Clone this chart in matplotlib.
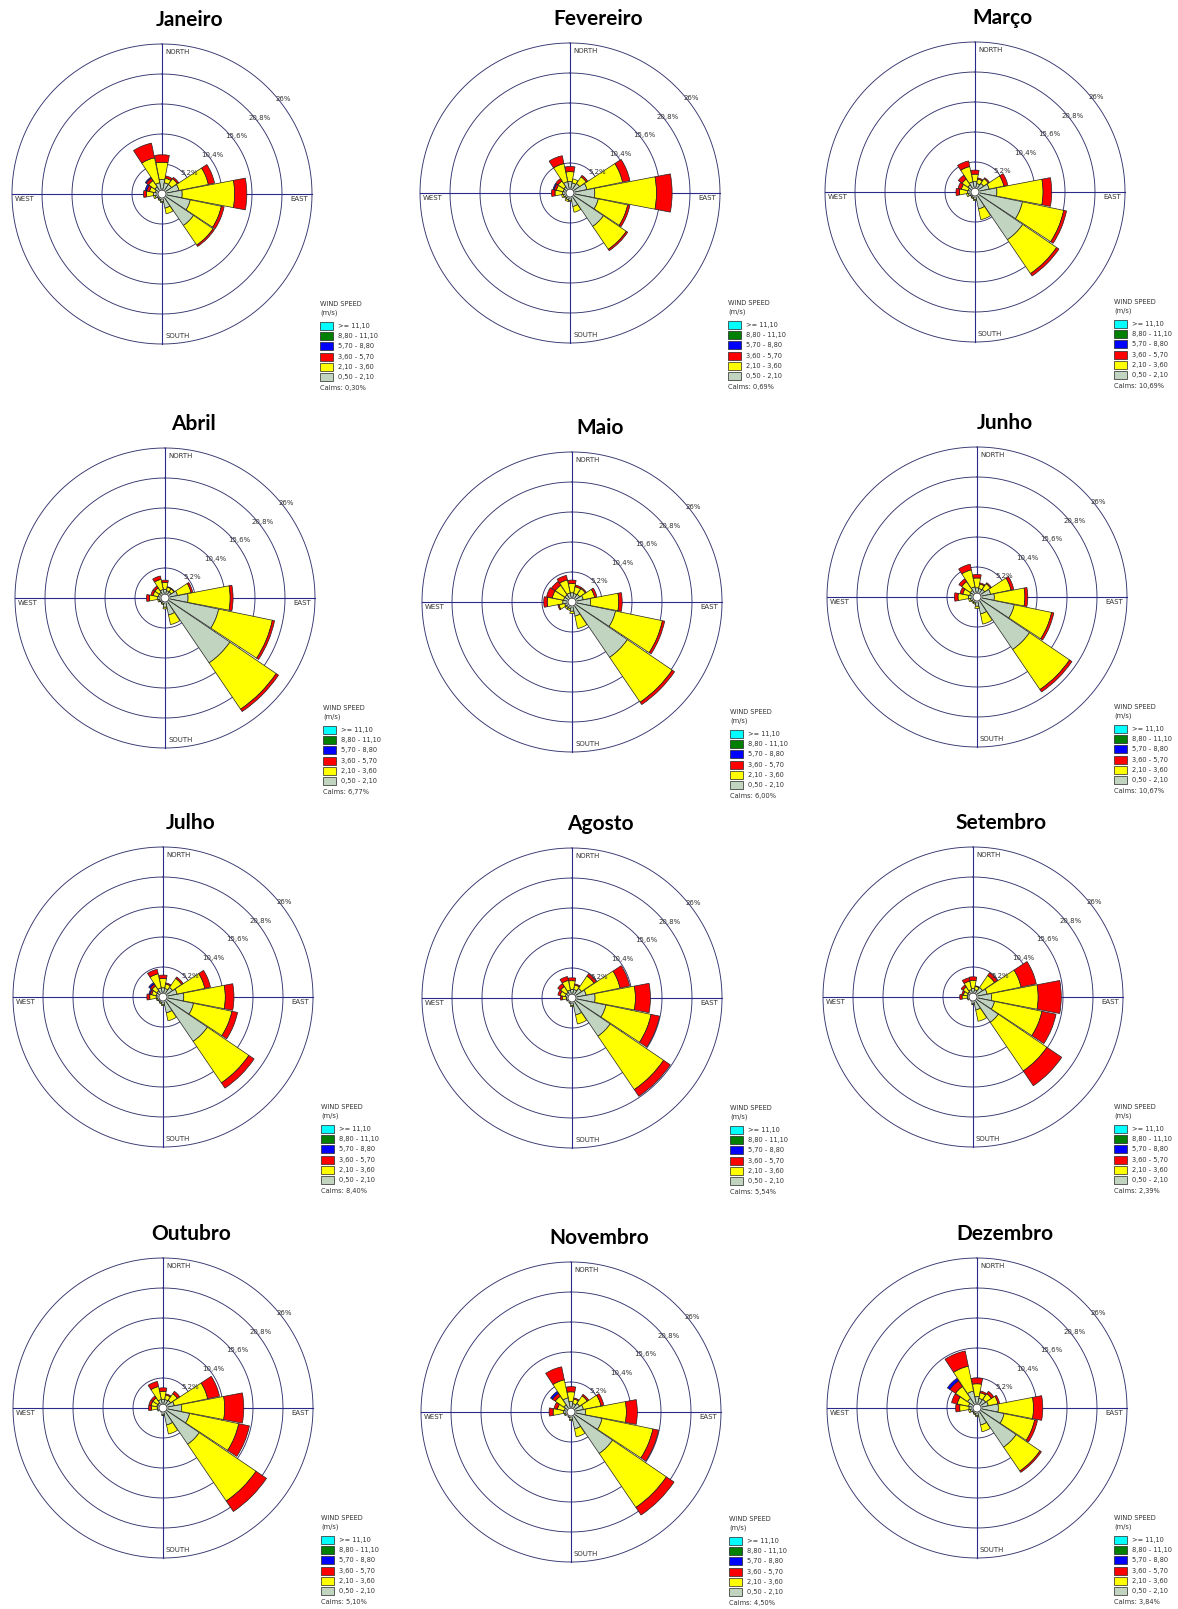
import numpy as np
import matplotlib
matplotlib.use("Agg")
import matplotlib.pyplot as plt
from matplotlib.patches import Rectangle

# ── data ───────────────────────────────────────────────────────────────────
DIRECTIONS = ["N", "NNE", "NE", "ENE", "E", "ESE", "SE", "SSE",
              "S", "SSW", "SW", "WSW", "W", "WNW", "NW", "NNW"]
SPEED_LABELS = [">= 11,10", "8,80 - 11,10", "5,70 - 8,80",
                "3,60 - 5,70", "2,10 - 3,60", "0,50 - 2,10"]
SPEED_COLORS = ["#00ffff", "#008000", "#0000ff", "#ff0000", "#ffff00", "#c0d4c0"]
RING_VALUES = [5.2, 10.4, 15.6, 20.8, 26]
RING_LABELS = ["5,2%", "10,4%", "15,6%", "20,8%", "26%"]

MONTHS = ["Janeiro", "Fevereiro", "Março", "Abril", "Maio", "Junho",
          "Julho", "Agosto", "Setembro", "Outubro", "Novembro", "Dezembro"]
CALMS = ["0,30%", "0,69%", "10,69%", "6,77%", "6,00%", "10,67%",
         "8,40%", "5,54%", "2,39%", "5,10%", "4,50%", "3,84%"]

# frequency (%) by direction; rows = 0.50-2.10, 2.10-3.60, 3.60-5.70, 5.70-8.80 m/s
JANEIRO = [[2.5, 2.0, 2.0, 3.0, 3.5, 5.0, 6.6, 2.5, 1.3, 1.0, 0.9, 1.2, 1.5, 1.2, 1.5, 2.0],
           [3.0, 0.8, 1.2, 5.2, 9.1, 5.5, 4.1, 1.0, 0.2, 0.2, 0.1, 0.3, 1.2, 1.0, 1.3, 4.4],
           [1.3, 0.4, 0.3, 1.1, 2.1, 0.5, 0.3, 0.0, 0.0, 0.0, 0.0, 0.0, 0.5, 0.5, 0.5, 2.6],
           [0.0, 0.0, 0.0, 0.0, 0.0, 0.0, 0.0, 0.0, 0.0, 0.0, 0.0, 0.0, 0.0, 0.3, 0.2, 0.0]]
FEVEREIRO = [[2.0, 1.8, 2.0, 3.0, 4.3, 5.0, 7.0, 2.4, 1.3, 1.2, 1.0, 1.2, 1.3, 1.2, 1.3, 2.0],
             [1.7, 0.7, 1.4, 6.3, 10.7, 5.2, 4.8, 1.0, 0.2, 0.3, 0.2, 0.3, 1.3, 1.2, 1.2, 3.2],
             [0.9, 0.0, 0.3, 1.3, 2.7, 0.4, 0.3, 0.0, 0.0, 0.0, 0.0, 0.0, 0.6, 0.4, 0.5, 1.4],
             [0.0, 0.0, 0.0, 0.0, 0.0, 0.0, 0.0, 0.0, 0.0, 0.0, 0.0, 0.0, 0.0, 0.2, 0.0, 0.0]]
MARCO = [[1.8, 1.5, 1.8, 2.5, 3.8, 8.4, 10.0, 3.0, 1.3, 1.0, 0.9, 1.2, 1.3, 1.2, 1.5, 1.8],
         [1.3, 0.8, 1.0, 2.6, 8.0, 7.3, 7.1, 1.9, 0.2, 0.2, 0.1, 0.3, 1.4, 1.2, 1.2, 2.7],
         [0.7, 0.2, 0.2, 0.7, 1.5, 0.5, 0.5, 0.0, 0.0, 0.0, 0.0, 0.0, 0.6, 0.6, 0.8, 1.0],
         [0.0] * 16]
ABRIL = [[1.5, 1.3, 1.3, 2.2, 4.0, 9.5, 13.6, 3.0, 1.6, 1.0, 0.9, 1.1, 1.3, 1.2, 1.2, 1.5],
         [1.2, 0.6, 0.6, 2.4, 7.3, 9.5, 9.7, 1.7, 0.3, 0.2, 0.1, 0.2, 1.4, 0.9, 0.9, 1.8],
         [0.4, 0.1, 0.1, 0.3, 0.5, 0.4, 0.5, 0.0, 0.0, 0.0, 0.0, 0.0, 0.5, 0.4, 0.4, 0.6],
         [0.0] * 16]
MAIO = [[1.6, 1.5, 1.6, 2.0, 3.2, 7.7, 11.6, 2.5, 1.6, 1.2, 1.2, 1.3, 1.6, 1.5, 1.5, 1.6],
        [1.6, 1.2, 1.2, 2.0, 4.9, 8.3, 9.4, 2.2, 0.4, 0.3, 0.3, 1.0, 2.7, 2.0, 2.0, 2.3],
        [0.6, 0.3, 0.2, 0.4, 0.6, 0.4, 0.5, 0.0, 0.0, 0.0, 0.0, 0.2, 0.6, 1.0, 0.8, 0.8],
        [0.0] * 16]
JUNHO = [[1.6, 1.5, 1.6, 2.4, 3.0, 6.6, 11.0, 3.0, 1.6, 1.1, 1.0, 1.2, 1.5, 1.3, 1.4, 1.8],
         [1.7, 0.8, 1.2, 3.6, 5.3, 6.6, 8.4, 1.8, 0.4, 0.2, 0.2, 0.3, 1.8, 1.2, 1.8, 3.0],
         [0.6, 0.2, 0.2, 0.5, 0.5, 0.4, 0.5, 0.0, 0.0, 0.0, 0.0, 0.0, 0.6, 0.5, 0.6, 1.0],
         [0.0] * 16]
JULHO = [[1.6, 1.5, 2.0, 2.5, 3.6, 5.4, 9.3, 2.8, 1.3, 1.0, 0.9, 1.0, 1.2, 1.2, 1.3, 1.6],
         [1.6, 0.8, 1.9, 4.9, 7.2, 6.8, 8.7, 1.4, 0.2, 0.2, 0.1, 0.2, 1.1, 0.8, 1.0, 2.5],
         [0.6, 0.2, 0.3, 1.0, 1.5, 1.0, 1.1, 0.0, 0.0, 0.0, 0.0, 0.0, 0.5, 0.3, 0.4, 0.8],
         [0.0, 0.0, 0.0, 0.0, 0.0, 0.0, 0.0, 0.0, 0.0, 0.0, 0.0, 0.0, 0.0, 0.2, 0.3, 0.0]]
AGOSTO = [[1.5, 1.5, 2.0, 2.5, 4.0, 6.0, 8.0, 3.0, 1.3, 0.9, 0.7, 0.9, 1.0, 1.2, 1.2, 1.4],
          [1.5, 0.8, 2.6, 6.0, 7.0, 8.0, 11.2, 1.6, 0.2, 0.1, 0.1, 0.1, 0.7, 0.9, 1.2, 1.7],
          [0.5, 0.2, 0.5, 1.7, 2.6, 1.5, 1.4, 0.0, 0.0, 0.0, 0.0, 0.0, 0.3, 0.4, 0.6, 0.7],
          [0.0] * 16]
SETEMBRO = [[1.5, 1.3, 2.0, 2.5, 3.2, 3.8, 5.3, 2.3, 1.2, 0.8, 0.7, 0.9, 1.0, 1.0, 1.1, 1.3],
            [1.4, 0.6, 2.5, 6.0, 8.1, 8.4, 10.2, 2.0, 0.1, 0.0, 0.0, 0.1, 0.9, 0.7, 1.0, 1.5],
            [0.6, 0.1, 0.6, 2.7, 4.0, 2.5, 3.1, 0.0, 0.0, 0.0, 0.0, 0.0, 0.4, 0.3, 0.4, 0.6],
            [0.0] * 16]
OUTUBRO = [[1.5, 1.5, 1.6, 2.0, 3.2, 4.7, 7.6, 3.0, 1.2, 0.8, 0.7, 0.9, 1.0, 1.1, 1.1, 1.5],
           [1.4, 0.8, 1.4, 5.9, 7.5, 8.7, 11.9, 1.6, 0.1, 0.0, 0.0, 0.1, 1.0, 1.0, 1.0, 2.3],
           [0.6, 0.2, 0.5, 2.1, 3.3, 1.9, 2.2, 0.0, 0.0, 0.0, 0.0, 0.0, 0.5, 0.4, 0.4, 0.9],
           [0.0] * 16]
NOVEMBRO = [[1.8, 1.5, 1.8, 2.2, 2.5, 5.5, 8.7, 3.0, 1.3, 0.9, 0.7, 1.0, 1.3, 1.2, 1.5, 2.5],
            [1.7, 0.8, 1.6, 3.1, 7.1, 9.0, 11.3, 1.4, 0.2, 0.1, 0.1, 0.2, 1.8, 1.2, 1.8, 3.2],
            [0.9, 0.2, 0.3, 0.5, 1.9, 1.0, 1.6, 0.0, 0.0, 0.0, 0.0, 0.0, 0.7, 0.6, 0.6, 2.3],
            [0.0, 0.0, 0.0, 0.0, 0.0, 0.0, 0.0, 0.0, 0.0, 0.0, 0.0, 0.0, 0.0, 0.0, 0.4, 0.0]]
DEZEMBRO = [[2.0, 1.7, 1.8, 2.0, 3.7, 4.8, 8.2, 3.0, 1.3, 1.0, 0.9, 1.2, 1.4, 1.5, 2.0, 3.0],
            [2.2, 1.0, 1.2, 1.7, 6.1, 5.4, 5.0, 1.2, 0.2, 0.2, 0.1, 0.3, 1.6, 2.0, 2.5, 4.4],
            [1.0, 0.3, 0.5, 0.3, 1.6, 0.5, 0.3, 0.0, 0.0, 0.0, 0.0, 0.0, 0.7, 1.0, 1.2, 2.7],
            [0.0, 0.0, 0.0, 0.0, 0.0, 0.0, 0.0, 0.0, 0.0, 0.0, 0.0, 0.0, 0.0, 0.0, 0.5, 0.0]]

MONTH_DATA = [JANEIRO, FEVEREIRO, MARCO, ABRIL, MAIO, JUNHO,
              JULHO, AGOSTO, SETEMBRO, OUTUBRO, NOVEMBRO, DEZEMBRO]

# ── layout (pixels, from top-left) ─────────────────────────────────────────
W, H, DPI = 1178, 1609, 100
R = 150
CENTERS = [(162, 194), (570, 193), (975, 192),
           (165, 598), (572, 602), (977, 597),
           (163, 997), (572, 998), (973, 997),
           (163, 1408), (571, 1412), (977, 1408)]
LINE_C = "#34346e"
TXT_C = "#333333"


def fx(x):
    return x / W


def fy(y):
    return 1 - y / H


def draw_rose(fig, cx, cy, data, title, calms):
    ax = fig.add_axes([fx(cx - R), fy(cy + R), 2 * R / W, 2 * R / H],
                      projection="polar")
    ax.set_theta_zero_location("N")
    ax.set_theta_direction(-1)
    ax.set_ylim(0, 26)
    ax.set_axis_off()

    # rings and cross
    tt = np.linspace(0, 2 * np.pi, 361)
    for rv in RING_VALUES:
        ax.plot(tt, np.full_like(tt, rv), color=LINE_C, lw=0.65, zorder=1,
                clip_on=False)
    for a in (0, 90, 180, 270):
        ax.plot([np.radians(a)] * 2, [0, 26], color="#2a2a8a", lw=0.8,
                zorder=1, clip_on=False)

    # stacked bars
    theta = np.radians(np.arange(16) * 22.5)
    width = np.radians(22.5) * 0.96
    bottom = np.zeros(16)
    class_cols = SPEED_COLORS[::-1]
    for k, vals in enumerate(data):
        vals = np.array(vals, dtype=float)
        m = vals > 0
        if m.any():
            ax.bar(theta[m], vals[m], width=width, bottom=bottom[m],
                   color=class_cols[k], edgecolor="#222222", linewidth=0.5,
                   zorder=3)
        bottom += vals

    # calm circle
    ax.fill(tt, np.full_like(tt, 0.7), color="white", zorder=4)
    ax.plot(tt, np.full_like(tt, 0.7), color="#222222", lw=0.6, zorder=5)

    # ring labels
    for rv, lab in zip(RING_VALUES, RING_LABELS):
        ax.text(np.radians(52), rv + 0.7, lab, fontsize=5, color=TXT_C,
                ha="center", va="center", zorder=6)

    # compass labels
    kw = dict(fontsize=5, color=TXT_C, transform=ax.transAxes)
    ax.text(0.51, 0.983, "NORTH", ha="left", va="top", **kw)
    ax.text(0.51, 0.027, "SOUTH", ha="left", va="center", **kw)
    ax.text(0.01, 0.483, "WEST", ha="left", va="center", **kw)
    ax.text(0.987, 0.483, "EAST", ha="right", va="center", **kw)

    # title
    fig.text(fx(cx + 28), fy(cy - 174), title, ha="center", va="center",
             fontsize=15, fontweight="bold", family=["Lato", "DejaVu Sans"])

    # legend (kept inside the page)
    lx = min(cx + 158, W - 64)
    ly = min(cy + 110, H - 90)
    fig.text(fx(lx), fy(ly), "WIND SPEED", fontsize=4.8, color=TXT_C,
             ha="left", va="center")
    fig.text(fx(lx), fy(ly + 9), "(m/s)", fontsize=4.8, color=TXT_C,
             ha="left", va="center")
    for i, (lab, col) in enumerate(zip(SPEED_LABELS, SPEED_COLORS)):
        yc = ly + 22 + i * 10.2
        fig.patches.append(Rectangle((fx(lx), fy(yc + 4)), 13 / W, 8 / H,
                                     transform=fig.transFigure, facecolor=col,
                                     edgecolor="#222222", linewidth=0.5))
        fig.text(fx(lx + 18), fy(yc), lab, fontsize=4.8, color=TXT_C,
                 ha="left", va="center")
    fig.text(fx(lx), fy(ly + 84), "Calms: " + calms, fontsize=4.8,
             color=TXT_C, ha="left", va="center")


def main():
    fig = plt.figure(figsize=(W / DPI, H / DPI), dpi=DPI)
    fig.patch.set_facecolor("white")
    for (cx, cy), data, title, calms in zip(CENTERS, MONTH_DATA, MONTHS, CALMS):
        draw_rose(fig, cx, cy, data, title, calms)
    fig.savefig("out.png", dpi=DPI)


if __name__ == "__main__":
    main()
